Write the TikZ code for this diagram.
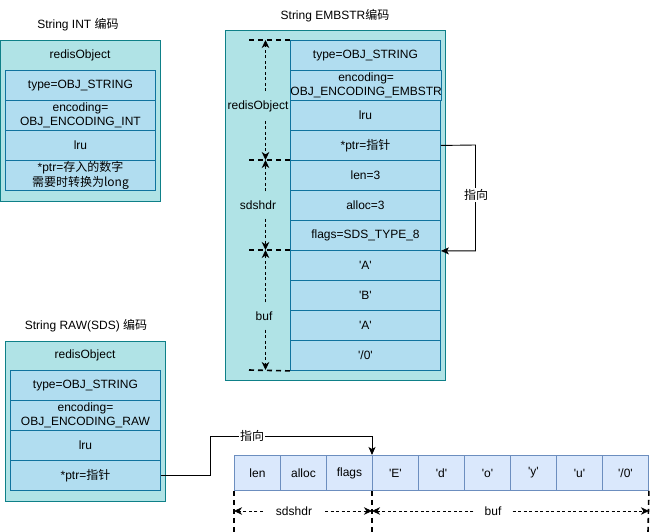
\documentclass[tikz,border=0pt]{standalone}
\usepackage{fontspec}
\setmainfont{Liberation Sans}
\newfontfamily\cjk{Noto Sans CJK SC}
\usetikzlibrary{arrows.meta}
\definecolor{outerfill}{HTML}{B0E3E6}
\definecolor{outerdraw}{HTML}{0E8088}
\definecolor{cellfill}{HTML}{B1DDF0}
\definecolor{celldraw}{HTML}{10739E}
\definecolor{arrfill}{HTML}{DAE8FC}
\definecolor{arrdraw}{HTML}{6C8EBF}
\newcommand\qq{\textquotesingle}
\begin{document}
\begin{tikzpicture}[x=1pt,y=-1pt,
  font=\fontsize{12}{14.5}\selectfont,
  outerbox/.style={draw=outerdraw,fill=outerfill,line width=0.9pt,anchor=north west,inner sep=0},
  cell/.style={draw=celldraw,fill=cellfill,line width=0.9pt,minimum width=150pt,minimum height=30pt,inner sep=0,align=center,anchor=north west},
  acell/.style={draw=arrdraw,fill=arrfill,line width=0.9pt,minimum width=46pt,minimum height=35pt,inner sep=0,align=center,anchor=north west},
  txt/.style={inner sep=1pt,align=center},
  conn/.style={draw=black,line width=0.9pt,-{Stealth[length=8pt,width=7pt,inset=2pt]}},
  dimline/.style={draw=black,line width=1.6pt,dash pattern=on 5pt off 4pt},
  dimarrow/.style={draw=black,line width=0.8pt,dash pattern=on 3pt off 2.5pt,-{Stealth[length=8pt,width=7.5pt,inset=2.5pt]}},
  dimlbl/.style={inner xsep=12pt,inner ysep=9pt}
]
\useasboundingbox (0,0) rectangle (655,532);

% ---------- String INT ----------
\node[txt] (inttitle) at (78,25) {String INT \cjk{编码}};
\node[outerbox,minimum width=160pt,minimum height=160pt] (intbox) at (0,40.5) {};
\node[txt] (intro) at (80,55.5) {redisObject};
\node[cell] (i1) at (5,70) {type=OBJ\_STRING};
\node[cell] (i2) at (5,100) {encoding=\\OBJ\_ENCODING\_INT};
\node[cell] (i3) at (5,130) {lru};
\node[cell] (i4) at (5,160) {*ptr=\cjk{存入的数字}\\\cjk{需要时转换为}long};

% ---------- String EMBSTR ----------
\node[txt] (embtitle) at (335,16) {String EMBSTR\cjk{编码}};
\node[outerbox,minimum width=220pt,minimum height=349pt] (embbox) at (225,30.5) {};
\node[cell] (e1) at (290,40) {type=OBJ\_STRING};
\node[cell] (e2) at (290,70) {encoding=\\OBJ\_ENCODING\_EMBSTR};
\node[cell] (e3) at (290,100) {lru};
\node[cell] (e4) at (290,130) {*ptr=\cjk{指针}};
\node[cell] (e5) at (290,160) {len=3};
\node[cell] (e6) at (290,190) {alloc=3};
\node[cell] (e7) at (290,220) {flags=SDS\_TYPE\_8};
\node[cell] (e8) at (290,250) {\qq A\qq};
\node[cell] (e9) at (290,280) {\qq B\qq};
\node[cell] (e10) at (290,310) {\qq A\qq};
\node[cell] (e11) at (290,340) {\qq/0\qq};

% dashed boundary marks
\coordinate (m1) at (249,40);
\coordinate (m2) at (249,160);
\coordinate (m3) at (249,250);
\coordinate (m4) at (249,370);
\draw[dimline] (m1) -- (e1.north west);
\draw[dimline] (m2) -- (e5.north west);
\draw[dimline] (m3) -- (e8.north west);
\draw[dimline] (m4) -- (e11.south west);
\coordinate (a1) at (265.5,40);
\coordinate (a2) at (265.5,160);
\coordinate (a3) at (265.5,250);
\coordinate (a4) at (265.5,370);

\node[dimlbl] (lro) at (258,106) {redisObject};
\node[dimlbl] (lsd) at (258,205) {sdshdr};
\node[dimlbl] (lbf) at (264,316) {buf};
\draw[dimarrow] (lro.north -| a1) -- (a1);
\draw[dimarrow] (lro.south -| a1) -- (a2);
\draw[dimarrow] (lsd.north -| a1) -- (a2);
\draw[dimarrow] (lsd.south -| a1) -- (a3);
\draw[dimarrow] (lbf.north -| a1) -- (a3);
\draw[dimarrow] (lbf.south -| a1) -- (a4);

% pointer arrow
\coordinate (ebend) at (475.5,145);
\draw[conn] (e4.east) -- (ebend) |- (e7.south east);
\node[txt,fill=white] (ezx) at (476,195) {\cjk{指向}};

% ---------- String RAW ----------
\node[txt] (rawtitle) at (86,326) {String RAW(SDS) \cjk{编码}};
\node[outerbox,minimum width=160pt,minimum height=160pt] (rawbox) at (5,340.5) {};
\node[txt] (rawro) at (85,355.5) {redisObject};
\node[cell] (r1) at (10,370) {type=OBJ\_STRING};
\node[cell] (r2) at (10,400) {encoding=\\OBJ\_ENCODING\_RAW};
\node[cell] (r3) at (10,430) {lru};
\node[cell] (r4) at (10,460) {*ptr=\cjk{指针}};

% ---------- SDS array ----------
\node[acell] (b1) at (234,455) {len};
\node[acell] (b2) at (280,455) {alloc};
\node[acell] (b3) at (326,455) {flags};
\node[acell] (b4) at (372,455) {\qq E\qq};
\node[acell] (b5) at (418,455) {\qq d\qq};
\node[acell] (b6) at (464,455) {\qq o\qq};
\node[acell] (b7) at (510,455) {\qq y\qq};
\node[acell] (b8) at (556,455) {\qq u\qq};
\node[acell] (b9) at (602,455) {\qq/0\qq};

\coordinate (rbend) at (210,436);
\draw[conn] (r4.east) -| (rbend) -| (b4.north west);
\node[txt,fill=white] (rzx) at (252,436) {\cjk{指向}};

% bottom dimensions
\coordinate (v1) at (234,532);
\coordinate (v2) at (372,532);
\coordinate (v3) at (648,532);
\draw[dimline] (b1.south west) -- (v1);
\draw[dimline] (b4.south west) -- (v2);
\draw[dimline] (b9.south east) -- (v3);
\node[dimlbl,inner xsep=13pt] (lsd2) at (294,511) {sdshdr};
\node[dimlbl,inner xsep=11pt] (lbf2) at (493,511) {buf};
\draw[dimarrow] (lsd2.west) -- (lsd2.west -| b1.south west);
\draw[dimarrow] (lsd2.east) -- (lsd2.east -| b4.south west);
\draw[dimarrow] (lbf2.west) -- (lbf2.west -| b4.south west);
\draw[dimarrow] (lbf2.east) -- (lbf2.east -| b9.south east);
\end{tikzpicture}
\end{document}
